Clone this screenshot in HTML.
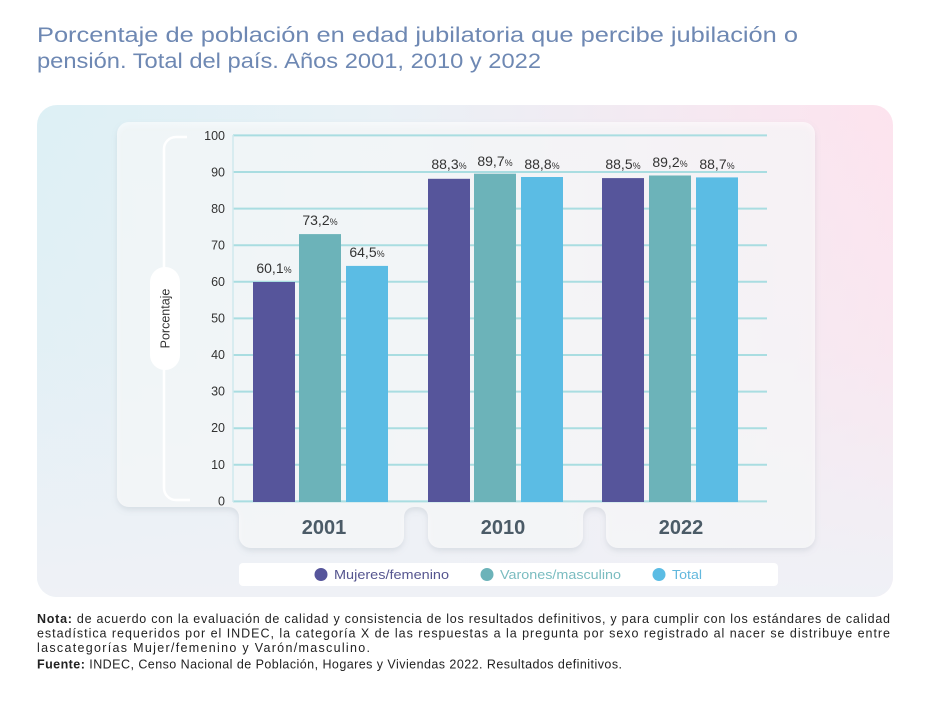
<!DOCTYPE html>
<html><head><meta charset="utf-8"><style>
html,body{margin:0;padding:0;background:#fff;}
svg{display:block;}
text{font-family:"Liberation Sans",sans-serif;}
</style></head><body>
<svg width="925" height="707" viewBox="0 0 925 707" xmlns="http://www.w3.org/2000/svg">
<defs>
<linearGradient id="gh" x1="0" y1="0" x2="1" y2="0">
<stop offset="0" stop-color="#ddf0f5"/>
<stop offset="0.4" stop-color="#e9f1f6"/>
<stop offset="1" stop-color="#fde3ee"/>
</linearGradient>
<linearGradient id="gv" x1="0" y1="0" x2="0" y2="1">
<stop offset="0" stop-color="#eff1f6" stop-opacity="0"/>
<stop offset="0.5" stop-color="#eff1f6" stop-opacity="0.3"/>
<stop offset="1" stop-color="#eff1f6" stop-opacity="1"/>
</linearGradient>
<filter id="sh" x="-10%" y="-10%" width="120%" height="130%">
<feDropShadow dx="0" dy="3" stdDeviation="3" flood-color="#7a8a99" flood-opacity="0.3"/>
</filter>
</defs>
<rect width="925" height="707" fill="#fff"/>
<text x="37" y="42" font-size="21" fill="#6e88b3" textLength="761" lengthAdjust="spacingAndGlyphs">Porcentaje de población en edad jubilatoria que percibe jubilación o</text>
<text x="37" y="68" font-size="21" fill="#6e88b3" textLength="504" lengthAdjust="spacingAndGlyphs">pensión. Total del país. Años 2001, 2010 y 2022</text>

<rect x="37" y="105" width="856" height="492" rx="20" fill="url(#gh)"/>
<rect x="37" y="105" width="856" height="492" rx="20" fill="url(#gv)"/>

<path filter="url(#sh)" fill="#ffffff" fill-opacity="0.62" d="M129,122 L803,122 A12,12 0 0 1 815,134 L815,536 A12,12 0 0 1 803,548 L618,548 A12,12 0 0 1 606,536 L606,517 A10,10 0 0 0 596,507 L593,507 A10,10 0 0 0 583,517 L583,536 A12,12 0 0 1 571,548 L440,548 A12,12 0 0 1 428,536 L428,517 A10,10 0 0 0 418,507 L414,507 A10,10 0 0 0 404,517 L404,536 A12,12 0 0 1 392,548 L251,548 A12,12 0 0 1 239,536 L239,517 A10,10 0 0 0 229,507 L129,507 A12,12 0 0 1 117,495 L117,134 A12,12 0 0 1 129,122 Z"/>

<path d="M187,137 L176,137 A12,12 0 0 0 164,149 L164,488 A12,12 0 0 0 176,500 L190,500" fill="none" stroke="#ffffff" stroke-width="2.5"/>
<rect x="150" y="267" width="30" height="103" rx="15" fill="#ffffff"/>
<text transform="translate(169.5,318.5) rotate(-90)" text-anchor="middle" font-size="12.5" fill="#333">Porcentaje</text>

<g stroke="#a9dde1" stroke-width="2">
<line x1="233" y1="135.4" x2="767" y2="135.4"/>
<line x1="233" y1="172.0" x2="767" y2="172.0"/>
<line x1="233" y1="208.6" x2="767" y2="208.6"/>
<line x1="233" y1="245.2" x2="767" y2="245.2"/>
<line x1="233" y1="281.8" x2="767" y2="281.8"/>
<line x1="233" y1="318.4" x2="767" y2="318.4"/>
<line x1="233" y1="355.0" x2="767" y2="355.0"/>
<line x1="233" y1="391.6" x2="767" y2="391.6"/>
<line x1="233" y1="428.2" x2="767" y2="428.2"/>
<line x1="233" y1="464.8" x2="767" y2="464.8"/>
<line x1="233" y1="501.4" x2="767" y2="501.4"/>
</g>
<line x1="233" y1="135" x2="233" y2="502" stroke="#cfeaed" stroke-width="1.5"/>
<g font-size="12.5" fill="#333" text-anchor="end">
<text x="225" y="140">100</text>
<text x="225" y="176.5">90</text>
<text x="225" y="213">80</text>
<text x="225" y="249.5">70</text>
<text x="225" y="286">60</text>
<text x="225" y="322.5">50</text>
<text x="225" y="359">40</text>
<text x="225" y="395.5">30</text>
<text x="225" y="432">20</text>
<text x="225" y="469">10</text>
<text x="225" y="505.5">0</text>
</g>

<g>
<rect x="253" y="282.0" width="42" height="220" fill="#56559b"/>
<rect x="299" y="234.1" width="42" height="267.9" fill="#6cb3b9"/>
<rect x="346" y="265.9" width="42" height="236.1" fill="#5bbce4"/>
<rect x="428" y="178.8" width="42" height="323.2" fill="#56559b"/>
<rect x="474" y="173.7" width="42" height="328.3" fill="#6cb3b9"/>
<rect x="521" y="177.0" width="42" height="325" fill="#5bbce4"/>
<rect x="602" y="178.1" width="42" height="323.9" fill="#56559b"/>
<rect x="649" y="175.5" width="42" height="326.5" fill="#6cb3b9"/>
<rect x="696" y="177.4" width="42" height="324.6" fill="#5bbce4"/>
</g>
<g font-size="14" fill="#333" text-anchor="middle">
<text x="274" y="273">60,1<tspan font-size="9">%</tspan></text>
<text x="320" y="225">73,2<tspan font-size="9">%</tspan></text>
<text x="367" y="257">64,5<tspan font-size="9">%</tspan></text>
<text x="449" y="169">88,3<tspan font-size="9">%</tspan></text>
<text x="495" y="166">89,7<tspan font-size="9">%</tspan></text>
<text x="542" y="169">88,8<tspan font-size="9">%</tspan></text>
<text x="623" y="169">88,5<tspan font-size="9">%</tspan></text>
<text x="670" y="167">89,2<tspan font-size="9">%</tspan></text>
<text x="717" y="169">88,7<tspan font-size="9">%</tspan></text>
</g>

<g font-size="20" font-weight="bold" fill="#4b5b67" text-anchor="middle">
<text x="324" y="534">2001</text>
<text x="503" y="534">2010</text>
<text x="681" y="534">2022</text>
</g>

<rect x="239" y="563" width="539" height="23" rx="4" fill="#ffffff"/>
<circle cx="321" cy="574.5" r="6.5" fill="#56559b"/>
<text x="334" y="579" font-size="13" fill="#55558f" textLength="115" lengthAdjust="spacingAndGlyphs">Mujeres/femenino</text>
<circle cx="487" cy="574.5" r="6.5" fill="#6cb3b9"/>
<text x="500" y="579" font-size="13" fill="#7abcc0" textLength="121" lengthAdjust="spacingAndGlyphs">Varones/masculino</text>
<circle cx="659" cy="574.5" r="6.5" fill="#5bbce4"/>
<text x="672" y="579" font-size="13" fill="#62b8dd" textLength="30" lengthAdjust="spacingAndGlyphs">Total</text>

<g font-size="12.5" fill="#222">
<text x="37" y="623" textLength="853" lengthAdjust="spacing"><tspan font-weight="bold">Nota:</tspan> de acuerdo con la evaluación de calidad y consistencia de los resultados definitivos, y para cumplir con los estándares de calidad</text>
<text x="37" y="637.5" textLength="853" lengthAdjust="spacing">estadística requeridos por el INDEC, la categoría X de las respuestas a la pregunta por sexo registrado al nacer se distribuye entre</text>
<text x="37" y="652" textLength="333" lengthAdjust="spacing">lascategorías Mujer/femenino y Varón/masculino.</text>
<text x="37" y="668.5" textLength="585" lengthAdjust="spacing"><tspan font-weight="bold">Fuente:</tspan> INDEC, Censo Nacional de Población, Hogares y Viviendas 2022. Resultados definitivos.</text>
</g>
</svg>
</body></html>
